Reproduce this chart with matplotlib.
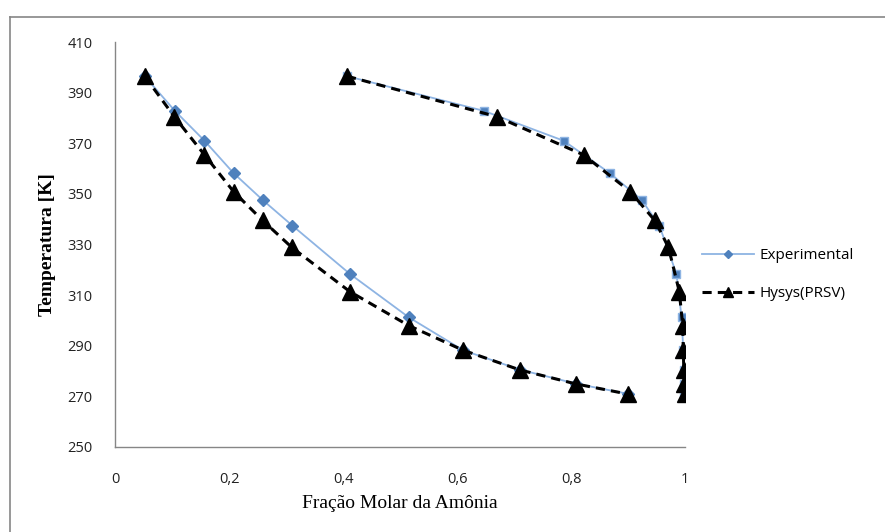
import numpy as np
import matplotlib.pyplot as plt
from matplotlib.lines import Line2D

# temperaturas [K]
temp_exp = [396.5, 382.8, 371.0, 358.2, 347.6, 337.5, 318.4, 301.3, 288.2, 280.5, 275.0, 271.0]
temp_hysys = [396.5, 380.5, 365.4, 350.9, 339.5, 328.9, 311.4, 298.0, 288.2, 280.4, 274.9, 270.9]

# curva de bolha (liquido)
x_exp_liq = [0.052, 0.105, 0.157, 0.208, 0.259, 0.311, 0.412, 0.515, 0.611, 0.711, 0.809, 0.900]
x_hysys_liq = [0.052, 0.104, 0.157, 0.208, 0.259, 0.310, 0.412, 0.515, 0.611, 0.711, 0.809, 0.900]

# curva de orvalho (vapor)
x_exp_vap = [0.407, 0.647, 0.787, 0.868, 0.924, 0.955, 0.985, 0.994, 0.997, 0.998, 0.999, 0.999]
x_hysys_vap = [0.407, 0.670, 0.822, 0.904, 0.947, 0.971, 0.990, 0.996, 0.997, 0.998, 0.999, 1.000]

blue_line = '#8EB4E3'
blue_mark = '#4F81BD'

fig = plt.figure(figsize=(8.85, 5.32), dpi=100)
ax = fig.add_axes([115 / 885, 1 - 447 / 532, 570 / 885, 405 / 532])

# moldura externa do grafico (estilo Excel)
fig.add_artist(Line2D([10 / 885, 10 / 885], [0, 1 - 17 / 532], transform=fig.transFigure, color='#868686', lw=1.2))
fig.add_artist(Line2D([10 / 885, 1], [1 - 17 / 532, 1 - 17 / 532], transform=fig.transFigure, color='#868686', lw=1.2))

ax.plot(x_exp_liq, temp_exp, color=blue_line, lw=1.3, marker='D', ms=6, mfc=blue_mark, mec=blue_mark, label='Experimental', zorder=2)
ax.plot(x_exp_vap, temp_exp, color=blue_line, lw=1.3, marker='s', ms=6, mfc=blue_mark, mec=blue_line, zorder=2)
ax.plot(x_hysys_liq, temp_hysys, color='black', lw=2.2, ls=(0, (3, 2)), marker='^', ms=11, mfc='black', mec='black', label='Hysys(PRSV)', zorder=3)
ax.plot(x_hysys_vap, temp_hysys, color='black', lw=2.2, ls=(0, (3, 2)), marker='^', ms=11, mfc='black', mec='black', zorder=3)

ax.set_xlim(0, 1)
ax.set_ylim(250, 410)
ax.set_xticks([0, 0.2, 0.4, 0.6, 0.8, 1])
ax.set_xticklabels(['0', '0,2', '0,4', '0,6', '0,8', '1'])
ax.set_yticks(np.arange(250, 411, 20))

for s in ['top', 'right']:
    ax.spines[s].set_visible(False)
for s in ['left', 'bottom']:
    ax.spines[s].set_color('#868686')
    ax.spines[s].set_linewidth(1.0)

ax.tick_params(length=0, colors='#000000', labelcolor='#222222')
ax.tick_params(axis='x', pad=18)
ax.tick_params(axis='y', pad=16)
for lab in ax.get_xticklabels() + ax.get_yticklabels():
    lab.set_family('Open Sans')
    lab.set_fontsize(10.5)

ax.set_xlabel('Fração Molar da Amônia', family='Liberation Serif', fontsize=14, labelpad=6)
ax.set_ylabel('Temperatura [K]', family='Liberation Serif', fontsize=14, fontweight='bold', labelpad=8)

leg = ax.legend(loc='center left', bbox_to_anchor=(1.005, 0.425), frameon=False,
                prop={'family': 'Open Sans', 'size': 11}, handlelength=3.4,
                labelspacing=1.5, handletextpad=0.4, markerscale=0.65)

fig.savefig('out.png', dpi=100)
